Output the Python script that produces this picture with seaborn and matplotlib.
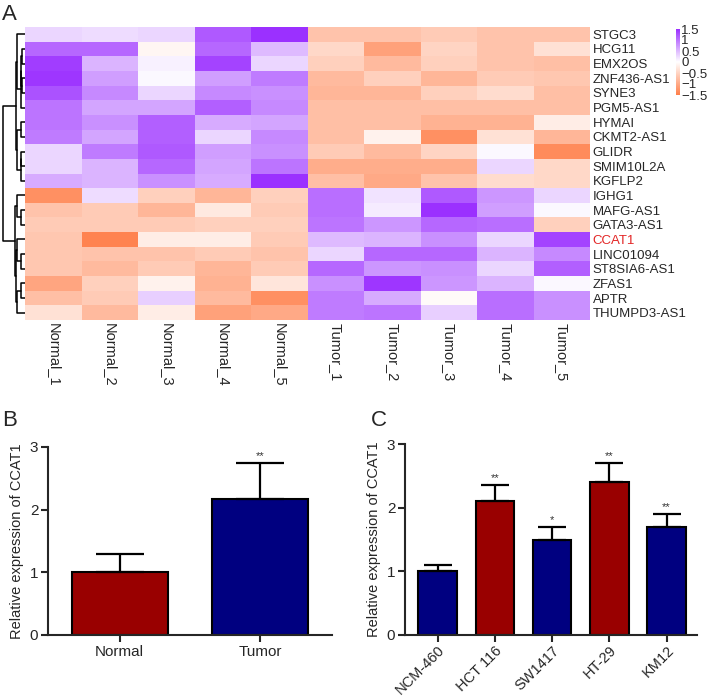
import numpy as np
import pandas as pd
import matplotlib
matplotlib.use("Agg")
import matplotlib.pyplot as plt
import seaborn as sns
from matplotlib.colors import LinearSegmentedColormap

# heatmap data (row z-scores)
genes = ["STGC3", "HCG11", "EMX2OS", "ZNF436-AS1", "SYNE3", "PGM5-AS1", "HYMAI",
         "CKMT2-AS1", "GLIDR", "SMIM10L2A", "KGFLP2", "IGHG1", "MAFG-AS1", "GATA3-AS1",
         "CCAT1", "LINC01094", "ST8SIA6-AS1", "ZFAS1", "APTR", "THUMPD3-AS1"]
samples = ["Normal_1", "Normal_2", "Normal_3", "Normal_4", "Normal_5",
           "Tumor_1", "Tumor_2", "Tumor_3", "Tumor_4", "Tumor_5"]

normal_z = [
    [0.30, 0.25, 0.30, 1.20, 1.50],
    [1.10, 1.10, -0.10, 1.10, 0.50],
    [1.40, 0.55, 0.10, 1.35, 0.30],
    [1.45, 0.70, 0.05, 0.70, 0.95],
    [1.25, 0.85, 0.30, 0.85, 0.80],
    [1.00, 0.65, 0.65, 1.15, 0.85],
    [1.00, 0.80, 1.15, 0.60, 0.65],
    [0.95, 0.65, 1.15, 0.30, 0.85],
    [0.30, 0.95, 1.20, 0.70, 0.80],
    [0.30, 0.55, 1.10, 0.65, 1.00],
    [0.60, 0.55, 0.80, 0.60, 1.50],
    [-1.30, 0.25, -0.55, -0.85, -0.55],
    [-0.70, -0.60, -0.85, -0.25, -0.60],
    [-0.60, -0.60, -0.60, -0.55, -0.55],
    [-0.65, -1.45, -0.20, -0.20, -0.60],
    [-0.65, -0.70, -0.70, -0.60, -0.70],
    [-0.65, -0.80, -0.60, -0.85, -0.60],
    [-1.05, -0.55, -0.15, -0.90, -0.30],
    [-0.75, -0.60, 0.35, -0.80, -1.30],
    [-0.35, -0.80, -0.20, -1.10, -1.00],
]
tumor_z = [
    [-0.70, -0.70, -0.60, -0.70, -0.70],
    [-0.45, -1.10, -0.50, -0.70, -0.35],
    [-0.55, -0.80, -0.55, -0.70, -0.75],
    [-0.80, -0.55, -0.85, -0.60, -0.65],
    [-0.85, -0.85, -0.55, -0.40, -0.75],
    [-0.75, -0.75, -0.75, -0.75, -0.75],
    [-0.75, -0.75, -0.90, -0.90, -0.20],
    [-0.75, -0.15, -1.30, -0.35, -0.85],
    [-0.60, -0.80, -0.50, 0.05, -1.35],
    [-0.95, -0.95, -0.95, 0.30, -0.45],
    [-0.75, -1.00, -0.70, -0.40, -0.45],
    [1.05, 0.20, 1.20, 0.75, 0.30],
    [1.05, 0.15, 1.50, 0.70, 0.05],
    [1.00, 0.75, 1.10, 1.05, -0.55],
    [0.50, 0.55, 0.80, 0.30, 1.35],
    [0.30, 1.10, 1.10, 0.55, 0.85],
    [1.10, 0.75, 0.80, 0.30, 1.15],
    [0.80, 1.45, 0.75, 0.55, 0.05],
    [0.95, 0.60, -0.05, 1.05, 0.80],
    [0.95, 1.00, 0.35, 1.05, 0.80],
]

# row dendrogram: (child a, child b, height); leaves are 0..19, new nodes from 20
row_tree = [
    (1, 2, 0.14), (3, 4, 0.12), (20, 21, 0.18), (22, 5, 0.20), (0, 23, 0.36),
    (6, 7, 0.18), (8, 9, 0.17), (26, 10, 0.20), (25, 27, 0.38), (24, 28, 0.42),
    (12, 13, 0.17), (11, 30, 0.36), (15, 16, 0.17), (14, 32, 0.36),
    (17, 18, 0.17), (34, 19, 0.36), (33, 35, 0.40), (31, 36, 0.45),
    (29, 37, 1.00),
]

# panel B
b_groups = ["Normal", "Tumor"]
b_mean = [1.0, 2.17]
b_sd = [0.30, 0.58]
b_sig = ["", "**"]
b_colors = ["#990000", "#000080"]

# panel C
c_lines = ["NCM-460", "HCT 116", "SW1417", "HT-29", "KM12"]
c_mean = [1.0, 2.1, 1.5, 2.4, 1.7]
c_sd = [0.10, 0.25, 0.20, 0.30, 0.20]
c_sig = ["", "**", "*", "**", "**"]
c_colors = ["#000080", "#990000", "#000080", "#990000", "#000080"]

sns.set_style("ticks")
plt.rcParams["font.family"] = ["Liberation Sans", "DejaVu Sans"]

W, H = 709, 698
fig = plt.figure(figsize=(W / 100, H / 100), dpi=100)


def box(x0, y0, x1, y1):
    return [x0 / W, 1 - y1 / H, (x1 - x0) / W, (y1 - y0) / H]


# ---- A: heatmap
ax_hm = fig.add_axes(box(25, 27, 590, 320))
ax_den = fig.add_axes(box(2, 27, 25, 320))
cax = fig.add_axes(box(676, 29, 680, 95))

cmap = LinearSegmentedColormap.from_list("ow", ["#FF7F4A", "#FFFFFF", "#9B30FF"])
df = pd.DataFrame(np.hstack([normal_z, tumor_z]), index=genes, columns=samples)
sns.heatmap(df, cmap=cmap, vmin=-1.5, vmax=1.5, ax=ax_hm, cbar_ax=cax,
            xticklabels=True, yticklabels=True)
ax_hm.set_xlabel("")
ax_hm.set_ylabel("")
ax_hm.yaxis.tick_right()
ax_hm.tick_params(length=0, pad=2)
ax_hm.set_yticklabels(genes, rotation=0, ha="left", fontsize=9.5)
ax_hm.set_xticklabels(samples, rotation=270, fontsize=10.5, va="top", ha="center")
for lab in ax_hm.get_yticklabels():
    if lab.get_text() == "CCAT1":
        lab.set_color("#E32626")

cbar = ax_hm.collections[0].colorbar
cbar.outline.set_visible(False)
cbar.set_ticks([-1.5, -1, -0.5, 0, 0.5, 1, 1.5])
cbar.set_ticklabels(["\u22121.5", "\u22121", "\u22120.5", "0", "0.5", "1", "1.5"])
cax.tick_params(length=0, labelsize=9.5, pad=1)

pos = {i: (i + 0.5, 0.0) for i in range(len(genes))}
for k, (a, b, h) in enumerate(row_tree):
    ya, ha_ = pos[a]
    yb, hb = pos[b]
    ax_den.plot([ha_, h, h, hb], [ya, ya, yb, yb], color="black", lw=1.1)
    pos[len(genes) + k] = ((ya + yb) / 2, h)
ax_den.set_xlim(1.045, 0)
ax_den.set_ylim(len(genes), 0)
ax_den.axis("off")


# ---- B / C: bar charts
def bar_panel(ax, cats, means, sds, colors, stars, width, cap):
    sns.barplot(x=cats, y=means, hue=cats, palette=colors, legend=False, width=width,
                edgecolor="black", linewidth=1.5, saturation=1, errorbar=None, ax=ax)
    xs = np.arange(len(cats))
    ax.errorbar(xs, means, yerr=[np.zeros(len(cats)), sds], fmt="none", ecolor="black",
                elinewidth=1.6, capsize=cap, capthick=1.6)
    for x, m, s, t in zip(xs, means, sds, stars):
        if t:
            ax.text(x, m + s + 0.03, t, ha="center", va="bottom", fontsize=8, color="#333333")
    ax.set_ylim(0, 3)
    ax.set_yticks([0, 1, 2, 3])
    sns.despine(ax=ax)
    for sp in ax.spines.values():
        sp.set_linewidth(1.5)
    ax.tick_params(width=1.5, length=5, labelsize=11, pad=2)
    ax.set_ylabel("Relative expression of CCAT1", fontsize=10.5, labelpad=4)
    ax.set_xlabel("")


ax_b = fig.add_axes(box(48, 447, 332, 635))
bar_panel(ax_b, b_groups, b_mean, b_sd, b_colors, b_sig, 0.68, 17)
ax_b.set_xlim(-0.51, 1.51)

ax_c = fig.add_axes(box(405, 444, 697, 635))
bar_panel(ax_c, c_lines, c_mean, c_sd, c_colors, c_sig, 0.67, 10)
ax_c.set_xlim(-0.57, 4.53)
ax_c.set_xticks(range(len(c_lines)))
ax_c.set_xticklabels(c_lines, rotation=45, ha="right", rotation_mode="anchor", fontsize=10.5)
ax_c.tick_params(axis="x", pad=1)

fig.text(2 / W, 1 - 4 / H, "A", fontsize=16, va="top")
fig.text(2 / W, 1 - 410 / H, "B", fontsize=16, va="top")
fig.text(371 / W, 1 - 410 / H, "C", fontsize=16, va="top")

fig.savefig("out.png", dpi=100)
